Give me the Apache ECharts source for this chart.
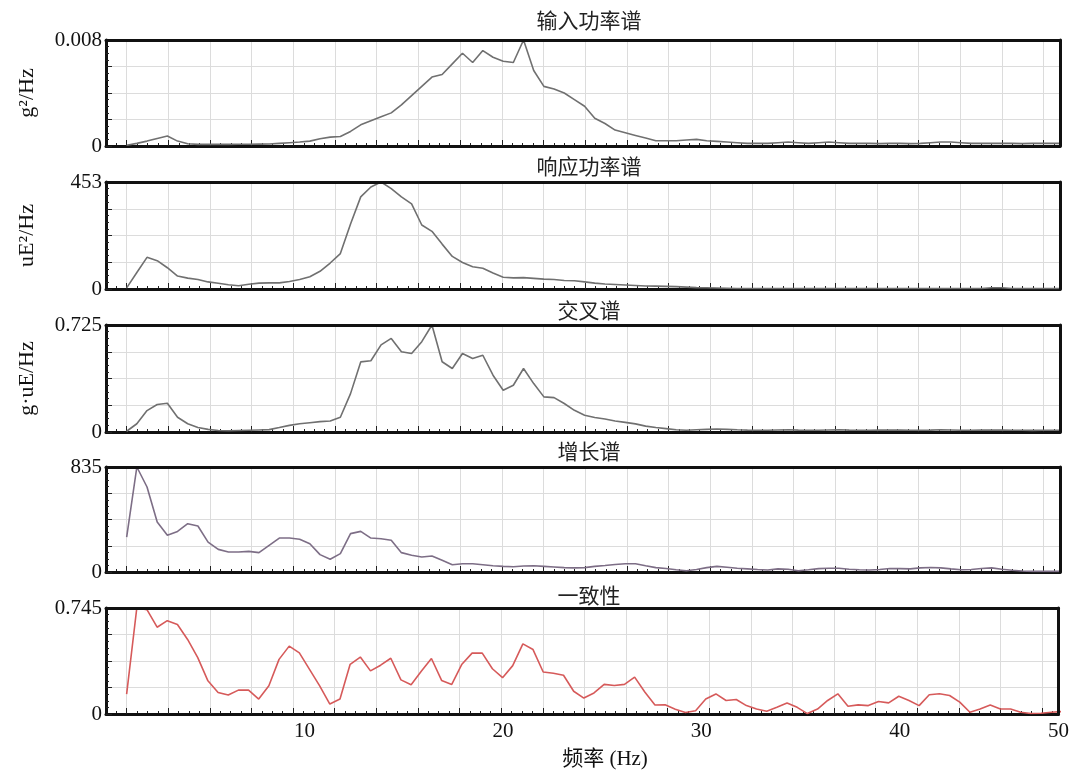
<!DOCTYPE html>
<html><head><meta charset="utf-8">
<script src="https://cdn.jsdelivr.net/npm/echarts@6/dist/echarts.min.js"></script>
<style>html,body{margin:0;padding:0;background:#fff}#c{width:1072px;height:770px}</style>
</head><body><div id="c"></div>
<script>
// ---------- data ----------
const panelTitles = ['输入功率谱', '响应功率谱', '交叉谱', '增长谱', '一致性'];
const yNames = ['g²/Hz', 'uE²/Hz', 'g·uE/Hz', '', ''];
const yMax = [0.008, 453, 0.725, 835, 0.745];
const yMaxLabels = ['0.008', '453', '0.725', '835', '0.745'];
const xTickValues = [10, 20, 30, 40, 48];
const xTickLabels = ['10', '20', '30', '40', '50'];
const xAxisTitle = '频率 (Hz)';
// frequency bins: first bin and spacing, Hz
const freqStart = 1.04, freqStep = 0.512;

const inputPSD = [0.00005,0.0002,0.00037,0.00057,0.00075,0.00037,0.00017,0.00012,0.00012,0.00012,
  0.00012,0.00013,0.00013,0.00014,0.00015,0.0002,0.00025,0.0003,0.00037,0.00055,
  0.00067,0.00072,0.0011,0.0016,0.0019,0.0022,0.0025,0.0031,0.0038,0.0045,
  0.0052,0.0054,0.0062,0.007,0.0063,0.0072,0.0067,0.0064,0.0063,0.008,
  0.0057,0.0045,0.0043,0.004,0.0035,0.003,0.0021,0.0017,0.0012,0.001,
  0.0008,0.0006,0.0004,0.0004,0.0004,0.00045,0.0005,0.0004,0.00035,0.0003,
  0.00025,0.0002,0.0002,0.0002,0.00025,0.0003,0.00025,0.0002,0.00025,0.0003,
  0.00025,0.0002,0.0002,0.0002,0.00018,0.0002,0.0002,0.00018,0.0002,0.00025,
  0.0003,0.0003,0.00025,0.0002,0.0002,0.0002,0.0002,0.0002,0.00018,0.0002,
  0.0002,0.0002,0.0002];
const responsePSD = [5,70,134,120,90,55,46,40,30,24,
  18,14,20,25,26,26,32,40,52,75,
  110,150,275,390,432,453,425,390,360,271,
  244,190,138,112,94,88,68,50,47,48,
  45,42,40,36,35,30,25,21,19,17,
  15,13,12,11,10,8,6,5,4,3,
  2,2,2,2,2,2,2,2,2,2,
  2,2,2,2,2,2,2,2,2,2,
  2,2,2,2,2,5,5,2,2,2,
  2,2,2];
const crossSpec = [0.005,0.056,0.145,0.186,0.195,0.1,0.056,0.03,0.018,0.01,
  0.008,0.01,0.012,0.014,0.016,0.03,0.045,0.056,0.063,0.07,
  0.075,0.1,0.26,0.475,0.483,0.59,0.634,0.544,0.532,0.612,
  0.725,0.476,0.43,0.532,0.498,0.52,0.385,0.283,0.317,0.43,
  0.328,0.238,0.233,0.193,0.147,0.113,0.098,0.088,0.075,0.065,
  0.055,0.04,0.03,0.023,0.015,0.012,0.015,0.018,0.02,0.018,
  0.015,0.013,0.012,0.012,0.014,0.015,0.013,0.012,0.012,0.014,
  0.015,0.013,0.012,0.012,0.013,0.014,0.013,0.012,0.012,0.013,
  0.015,0.014,0.012,0.012,0.013,0.014,0.013,0.012,0.012,0.011,
  0.012,0.012,0.012];
const gainSpec = [278,835,676,397,292,323,384,366,238,180,
  159,159,164,154,212,270,270,260,225,138,
  101,146,305,323,270,265,252,154,133,119,
  127,93,58,66,66,58,50,45,42,48,
  50,45,40,35,33,35,45,52,60,66,
  66,50,35,28,18,10,20,35,45,38,
  30,25,20,16,25,22,10,18,27,30,
  30,22,18,16,20,28,27,25,33,36,
  33,25,18,20,28,33,22,14,8,5,
  5,5,5];
const coherence = [0.14,0.745,0.733,0.61,0.656,0.629,0.524,0.396,0.233,0.151,
  0.133,0.168,0.168,0.105,0.198,0.384,0.477,0.43,0.314,0.198,
  0.07,0.105,0.349,0.4,0.303,0.343,0.392,0.24,0.206,0.3,
  0.39,0.236,0.208,0.35,0.428,0.428,0.318,0.255,0.34,0.493,
  0.453,0.295,0.286,0.272,0.16,0.112,0.148,0.208,0.2,0.208,
  0.259,0.155,0.063,0.065,0.034,0.01,0.023,0.105,0.141,0.095,
  0.102,0.059,0.035,0.019,0.047,0.078,0.047,0.003,0.035,0.095,
  0.142,0.054,0.064,0.059,0.088,0.078,0.125,0.095,0.059,0.135,
  0.142,0.13,0.083,0.012,0.035,0.064,0.035,0.035,0.012,0.003,
  0.005,0.012,0.017];

// ---------- layout / style ----------
const seriesData = [inputPSD, responsePSD, crossSpec, gainSpec, coherence];
const lineColors = ['#707070', '#707070', '#707070', '#7d6e86', '#d65a5a'];
const tops = [40, 182, 325, 467, 608];
const heights = [106, 107, 107, 105, 106];
const titleTops = [5, 151, 295, 436, 580];
const X_MIN = 0, X_MAX = 48;
const GRID_LEFT = 106, GRID_RIGHT = 12;
const serif = '"Liberation Serif", "Times New Roman", "Noto Sans CJK SC", serif';
const cjk = '"Noto Sans CJK SC", sans-serif';

const freqOf = k => +(freqStart + freqStep * k).toFixed(4);
// vertical grid lines every 4 tick marks, tick marks every quarter of a grid step
const gridStep = 2.097;
const majorTicks = [], minorTicks = [];
for (let j = 0; freqStart + gridStep * j <= X_MAX; j++) majorTicks.push(+(freqStart + gridStep * j).toFixed(4));
for (let i = -1; freqStart + gridStep / 4 * i <= X_MAX; i++) {
  const v = freqStart + gridStep / 4 * i;
  if (v > X_MIN) minorTicks.push(+v.toFixed(4));
}

const grids = [], xAxes = [], yAxes = [], series = [], titles = [];
for (let i = 0; i < 5; i++) {
  grids.push({ left: GRID_LEFT, right: GRID_RIGHT, top: tops[i], height: heights[i], containLabel: false });
  const last = i === 4;
  xAxes.push({
    type: 'value', gridIndex: i, min: X_MIN, max: X_MAX, position: 'bottom',
    axisLine: { show: true, onZero: false, lineStyle: { color: '#111', width: 3 } },
    axisTick: { show: true, inside: true, length: 6, customValues: majorTicks, lineStyle: { color: '#222', width: 1 } },
    splitLine: { show: true, lineStyle: { color: '#dcdcdc', width: 1 } },
    axisLabel: {
      show: last, customValues: xTickValues, margin: 7,
      fontFamily: serif, fontSize: 21, color: '#111',
      formatter: v => { const idx = xTickValues.indexOf(v); return idx >= 0 ? xTickLabels[idx] : ''; }
    },
    z: 3
  });
  xAxes.push({
    type: 'value', gridIndex: i, min: X_MIN, max: X_MAX, position: 'bottom',
    axisLine: { show: false },
    axisTick: { show: true, inside: true, length: 3, customValues: minorTicks, lineStyle: { color: '#222', width: 1 } },
    splitLine: { show: false }, axisLabel: { show: false }
  });
  xAxes.push({
    type: 'value', gridIndex: i, min: X_MIN, max: X_MAX, position: 'top',
    axisLine: { show: true, onZero: false, lineStyle: { color: '#111', width: 3 } },
    axisTick: { show: false }, splitLine: { show: false }, axisLabel: { show: false }, z: 5
  });
  yAxes.push({
    type: 'value', gridIndex: i, min: 0, max: yMax[i], interval: yMax[i] / 4, position: 'left',
    name: yNames[i], nameLocation: 'middle', nameRotate: 90, nameGap: 68,
    nameTextStyle: { fontFamily: serif, fontSize: 22, color: '#111' },
    axisLine: { show: true, onZero: false, lineStyle: { color: '#111', width: 3 } },
    axisTick: { show: true, inside: true, length: 6, lineStyle: { color: '#222', width: 1 } },
    minorTick: { show: true, splitNumber: 4, length: 3, lineStyle: { color: '#222', width: 1 } },
    splitLine: { show: true, showMinLine: false, showMaxLine: false, lineStyle: { color: '#dcdcdc', width: 1 } },
    axisLabel: {
      show: true, customValues: [0, yMax[i]], margin: 4,
      fontFamily: serif, fontSize: 21, color: '#111',
      formatter: v => (v === 0 ? '0' : yMaxLabels[i])
    },
    z: 3
  });
  yAxes.push({
    type: 'value', gridIndex: i, min: 0, max: 1, position: 'right',
    axisLine: { show: true, onZero: false, lineStyle: { color: '#111', width: 3 } },
    axisTick: { show: false }, splitLine: { show: false }, axisLabel: { show: false }, z: 5
  });
  series.push({
    type: 'line', name: panelTitles[i], xAxisIndex: i * 3, yAxisIndex: i * 2,
    data: seriesData[i].map((v, k) => [freqOf(k), v]),
    showSymbol: false, symbol: 'none', clip: true,
    lineStyle: { color: lineColors[i], width: 1.6 }, z: 4
  });
  titles.push({
    text: panelTitles[i], left: 584, top: titleTops[i], textAlign: 'center',
    textStyle: { fontFamily: cjk, fontSize: 21, fontWeight: 'normal', color: '#222' }
  });
}
titles.push({
  text: xAxisTitle, left: 600, top: 744, textAlign: 'center',
  textStyle: { fontFamily: serif, fontSize: 21, fontWeight: 'normal', color: '#111' }
});

const chart = echarts.init(document.getElementById('c'), null, { renderer: 'canvas' });
chart.setOption({
  animation: false,
  backgroundColor: '#fff',
  title: titles,
  grid: grids,
  xAxis: xAxes,
  yAxis: yAxes,
  series: series
});
</script>
</body></html>
